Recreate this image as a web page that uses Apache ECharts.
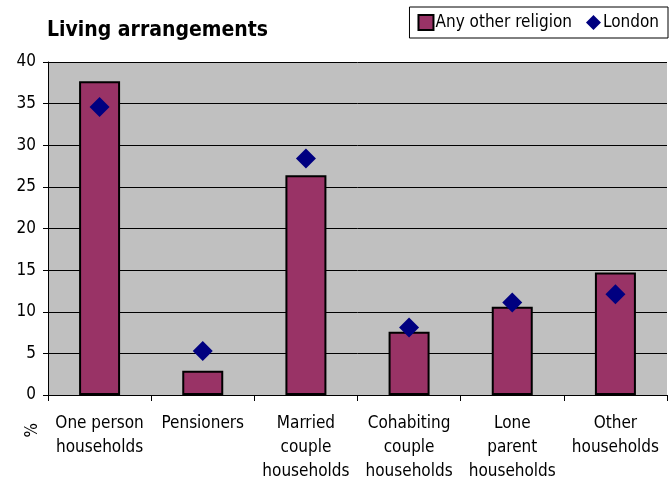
<!DOCTYPE html>
<html><head><meta charset="utf-8">
<script src="https://cdn.jsdelivr.net/npm/echarts@6/dist/echarts.min.js"></script>
<style>html,body{margin:0;padding:0;background:#fff}#c{width:669px;height:479px}</style>
</head><body><div id="c"></div>
<script>
const categories = ["One person\nhouseholds", "Pensioners", "Married\ncouple\nhouseholds", "Cohabiting\ncouple\nhouseholds", "Lone\nparent\nhouseholds", "Other\nhouseholds"];
const anyOtherReligion = [37.7, 2.9, 26.4, 7.6, 10.6, 14.7];
const london = [34.6, 5.3, 28.4, 8.1, 11.1, 12.1];
const yTicks = [0, 5, 10, 15, 20, 25, 30, 35, 40];

const FONT = "'DejaVu Sans Condensed', sans-serif";
const chart = echarts.init(document.getElementById('c'), null, {renderer: 'canvas'});
chart.setOption({
  animation: false,
  backgroundColor: '#ffffff',
  textStyle: {fontFamily: FONT},
  title: {
    text: 'Living arrangements', left: 42, top: 15,
    textStyle: {fontFamily: FONT, fontWeight: 'bold', fontSize: 21, color: '#000'}
  },
  legend: {
    right: 1, top: 7, itemGap: 14, itemWidth: 15, itemHeight: 15,
    padding: [7, 9, 7, 8],
    borderColor: '#000', borderWidth: 1, backgroundColor: '#fff',
    textStyle: {fontFamily: FONT, fontSize: 17, color: '#000', padding: [0, 0, 0, -3]},
    data: [
      {name: 'Any other religion', icon: 'rect', itemStyle: {color: '#993366', borderColor: '#000', borderWidth: 2}},
      {name: 'London', icon: 'diamond', itemStyle: {color: '#000080', opacity: 1}}
    ]
  },
  grid: {left: 48, right: 2, top: 62, bottom: 84, backgroundColor: '#c0c0c0', show: true, borderWidth: 0, outerBoundsMode: 'none', containLabel: false},
  xAxis: {
    type: 'category', data: categories,
    axisLine: {show: true, lineStyle: {color: '#000', width: 1}},
    axisTick: {show: true, alignWithLabel: false, length: 6, lineStyle: {color: '#000'}},
    axisLabel: {fontFamily: FONT, fontSize: 17, color: '#000', lineHeight: 24, margin: 17, interval: 0}
  },
  yAxis: {
    type: 'value', min: 0, max: 40, interval: 5,
    axisLine: {show: true, lineStyle: {color: '#000', width: 1}},
    axisTick: {show: true, length: 5, lineStyle: {color: '#000'}},
    splitLine: {show: true, lineStyle: {color: '#000', width: 1}},
    axisLabel: {fontFamily: FONT, fontSize: 17, color: '#000', margin: 12,
      formatter: v => yTicks.includes(v) ? String(v) : ''}
  },
  graphic: [{
    type: 'text', left: 24, top: 423, rotation: Math.PI / 2,
    style: {text: '%', font: '17px ' + FONT, fill: '#000'}
  }],
  series: [
    {name: 'Any other religion', type: 'bar', data: anyOtherReligion, barWidth: 41,
      itemStyle: {color: '#993366', borderColor: '#000', borderWidth: 2}},
    {name: 'London', type: 'scatter', data: london, symbol: 'diamond', symbolSize: 20,
      itemStyle: {color: '#000080', opacity: 1}}
  ]
});
</script></body></html>
